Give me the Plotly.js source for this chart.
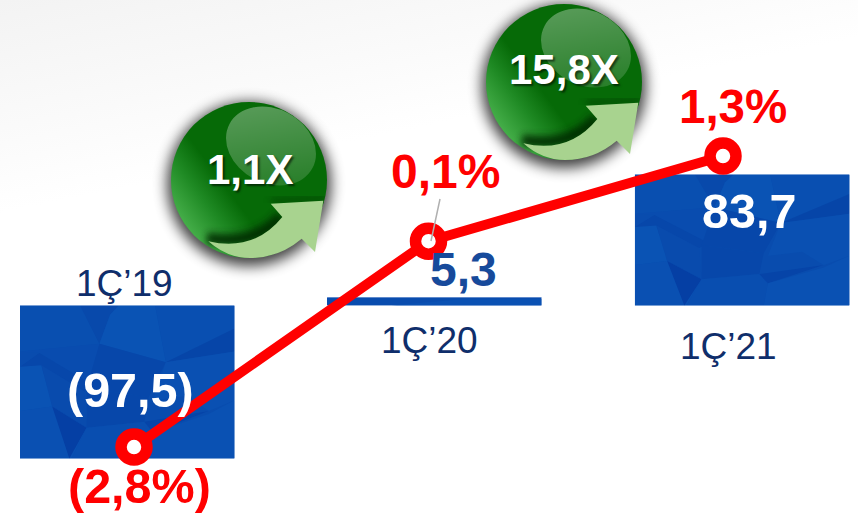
<!DOCTYPE html>
<html>
<head>
<meta charset="utf-8">
<script src="https://cdn.plot.ly/plotly-3.0.1.min.js"></script>
<style>html,body{margin:0;padding:0;background:#fff}#chart{width:858px;height:518px}</style>
</head>
<body>
<div id="chart"></div>
<script>
// ---- data ----
const periods = ["1Ç’19", "1Ç’20", "1Ç’21"];
const resultValues = [-97.5, 5.3, 83.7];
const resultLabels = ["(97,5)", "5,3", "83,7"];
const marginValues = [-2.8, 0.1, 1.3];
const marginLabels = ["(2,8%)", "0,1%", "1,3%"];
const growthLabels = ["1,1X", "15,8X"];

// ---- page geometry ----
const W = 858, H = 518;
const BAR_LEFT = [20, 327, 635], BAR_W = 214.5;
const BAR_ZERO_PX = 305.6, BAR_PX_PER_UNIT = 1.567;
const barCentre0 = 127.25, barStep = 307.4;
const lineX0 = 134, lineStep = 294.5;
const lineZeroPx = 248.3, linePxPerUnit = 70.98;

const FONT = '"Liberation Sans", Arial, sans-serif';
const svgUri = s => 'data:image/svg+xml;utf8,' + encodeURIComponent(s);

// ---- decoration: soft page background ----
const bgSvg = `<svg xmlns="http://www.w3.org/2000/svg" width="${W}" height="${H}" viewBox="0 0 ${W} ${H}">
<defs><linearGradient id="g" gradientUnits="userSpaceOnUse" x1="0" y1="0" x2="42" y2="205">
<stop offset="0" stop-color="#f3f3f3"/><stop offset="0.6" stop-color="#fafafa"/><stop offset="1" stop-color="#ffffff"/></linearGradient></defs>
<rect width="${W}" height="${H}" fill="url(#g)"/></svg>`;

// ---- decoration: faceted blue texture, viewBox is 100x100 and stretched to each bar ----
const facets = [
  ["0,0 100,0 100,100 0,100", "#0a4eb0"],
  ["0,0 28,0 37,25 0,30", "#0a52b3"],
  ["28,0 46,0 42,6 37,25", "#0849ab"],
  ["37,25 42,6 46,0 63,0 68,37", "#0b58b9"],
  ["63,0 100,0 100,15 68,37", "#0a52b4"],
  ["68,37 100,15 100,30 82,34", "#0643a6"],
  ["0,30 37,25 34,52 9,31", "#0a4eb1"],
  ["9,31 34,52 30,56 0,40", "#0745a9"],
  ["37,25 68,37 60,60 42,56 31,54", "#0746aa"],
  ["68,37 100,30 100,62 88,69 78,59 62,62", "#0b54b6"],
  ["0,40 10,39 15,66 0,69", "#0b58b9"],
  ["10,39 30,56 31,80 15,66", "#0a4cae"],
  ["31,54 60,60 58,76 31,80", "#0746a9"],
  ["15,66 31,80 24,100 0,100 0,69", "#0b54b6"],
  ["15,66 31,80 23,100", "#0439a0"],
  ["31,80 58,76 62,83 60,100 24,100", "#0a50b2"],
  ["58,76 88,69 62,83", "#0541a6"],
  ["62,83 88,71 100,62 100,100 60,100", "#0b55b7"]
];
const textureSvg = `<svg xmlns="http://www.w3.org/2000/svg" viewBox="0 0 100 100" preserveAspectRatio="none" width="214" height="150">` +
  facets.map(f => `<polygon points="${f[0]}" fill="${f[1]}"/>`).join('') + `</svg>`;
const stripSvg = `<svg xmlns="http://www.w3.org/2000/svg" viewBox="0 0 100 100" preserveAspectRatio="none" width="214" height="9">
<rect width="100" height="100" fill="#0a4eb0"/><polygon points="30,100 60,30 100,20 100,100" fill="#0b55b7"/></svg>`;

// ---- decoration: green growth badge ----
const BADGE = 220;
const badgeSvg = `<svg xmlns="http://www.w3.org/2000/svg" width="${BADGE}" height="${BADGE}" viewBox="-110 -110 220 220">
<defs>
<filter id="s" x="-40%" y="-40%" width="180%" height="180%"><feGaussianBlur stdDeviation="7"/></filter>
<filter id="d" x="-40%" y="-40%" width="180%" height="180%"><feGaussianBlur stdDeviation="3.5"/></filter>
<clipPath id="c"><circle r="78"/></clipPath>
<linearGradient id="b" gradientUnits="userSpaceOnUse" x1="-70" y1="40" x2="-24" y2="6">
<stop offset="0" stop-color="#47b04b"/><stop offset="0.55" stop-color="#1f8a24"/><stop offset="1" stop-color="#066a07"/></linearGradient>
<linearGradient id="h" gradientUnits="userSpaceOnUse" x1="-5" y1="-75" x2="55" y2="5">
<stop offset="0" stop-color="#ffffff" stop-opacity="0.34"/><stop offset="1" stop-color="#ffffff" stop-opacity="0.12"/></linearGradient>
</defs>
<circle r="82" cy="4" fill="#000" opacity="0.75" filter="url(#s)"/>
<circle r="78" fill="url(#b)"/>
<g clip-path="url(#c)">
<ellipse cx="22" cy="-34" rx="47" ry="37" transform="rotate(28 22 -34)" fill="url(#h)"/>
<path d="M-42,58 Q6,66 32,36" fill="none" stroke="#012a01" stroke-width="11" opacity="0.9" filter="url(#d)"/>
<path d="M22,21 L76,18" fill="none" stroke="#013a01" stroke-width="6" opacity="0.55" filter="url(#d)"/>
</g>
<path d="M21.7,23.7 L74.3,20.7 L66,72 L52.7,58.7 Q30,78 1,78 Q-22,78 -40.7,61.3 Q5,72 33.3,37 Z" fill="#a8d38f"/>
</svg>`;

// ---- images ----
const pxImage = (source, left, top, w, h) => ({
  source, xref: 'paper', yref: 'paper', xanchor: 'left', yanchor: 'top',
  x: left / W, y: 1 - top / H, sizex: w / W, sizey: h / H,
  sizing: 'stretch', layer: 'below'
});
const barTop = v => BAR_ZERO_PX - Math.max(v, 0) * BAR_PX_PER_UNIT;
const barPx = v => Math.abs(v) * BAR_PX_PER_UNIT;
const images = [
  pxImage(svgUri(bgSvg), 0, 0, W, H),
  pxImage(svgUri(textureSvg), BAR_LEFT[0], barTop(resultValues[0]), BAR_W, barPx(resultValues[0])),
  pxImage(svgUri(stripSvg), BAR_LEFT[1], barTop(resultValues[1]), BAR_W, barPx(resultValues[1])),
  pxImage(svgUri(textureSvg), BAR_LEFT[2], barTop(resultValues[2]), BAR_W, barPx(resultValues[2])),
  pxImage(svgUri(badgeSvg), 249 - BADGE / 2, 180 - BADGE / 2, BADGE, BADGE),
  pxImage(svgUri(badgeSvg), 564 - BADGE / 2, 82 - BADGE / 2, BADGE, BADGE)
];

// ---- traces ----
const bars = {
  type: 'bar', x: periods, y: resultValues, xaxis: 'x', yaxis: 'y',
  width: BAR_W / barStep,
  marker: { color: 'rgba(9,74,172,0.35)', line: { width: 0 } },
  hoverinfo: 'x+y', showlegend: false
};
const marginLine = {
  type: 'scatter', mode: 'lines+markers', x: periods, y: marginValues, xaxis: 'x2', yaxis: 'y2',
  line: { color: '#ff0000', width: 10 },
  marker: { size: 26, color: '#ffffff', line: { color: '#ff0000', width: 11.5 } },
  hoverinfo: 'x+y', showlegend: false, cliponaxis: false
};

// ---- labels, anchored to the marks ----
const barNote = (i, text, dx, dy, color, size, weight) => ({
  xref: 'x', yref: 'y', x: periods[i], y: 0, xshift: dx, yshift: dy, text, showarrow: false,
  xanchor: 'center', yanchor: 'middle',
  font: { family: FONT, size, color, weight }
});
const lineNote = (i, dx, dy, size) => ({
  xref: 'x2', yref: 'y2', x: periods[i], y: marginValues[i], xshift: dx, yshift: dy,
  text: marginLabels[i], showarrow: false, xanchor: 'center', yanchor: 'middle',
  font: { family: FONT, size, color: '#ff0000', weight: 700 }
});
const badgeNote = (text, cx, cy) => ({
  xref: 'paper', yref: 'paper', x: cx / W, y: 1 - cy / H, text, showarrow: false,
  xanchor: 'center', yanchor: 'middle',
  font: { family: FONT, size: 42, color: '#ffffff', weight: 700, shadow: '2px 2px 2px rgba(0,0,0,0.55)' }
});
const NAVY = '#0f2e6b';
const annotations = [
  barNote(0, resultLabels[0], 3, -84, '#ffffff', 48.5, 700),
  barNote(1, resultLabels[1], 28.5, 36, '#174a9b', 48, 700),
  barNote(2, resultLabels[2], 7, 95, '#ffffff', 48.5, 700),
  barNote(0, periods[0], -2.5, 22, NAVY, 37, 400),
  barNote(1, periods[1], -5, -35, NAVY, 37, 400),
  barNote(2, periods[2], -13.5, -41, NAVY, 37, 400),
  lineNote(0, 5, -39, 48.5),
  lineNote(1, 16.5, 70, 48),
  lineNote(2, 9.5, 50, 47.5),
  badgeNote(growthLabels[0], 249.5, 169),
  badgeNote(growthLabels[1], 563.5, 69)
];

// ---- layout ----
const hidden = { visible: false, fixedrange: true, showgrid: false, zeroline: false };
const layout = {
  width: W, height: H,
  margin: { l: 0, r: 0, t: 0, b: 0, pad: 0 },
  paper_bgcolor: '#ffffff', plot_bgcolor: 'rgba(0,0,0,0)',
  showlegend: false,
  xaxis: Object.assign({}, hidden, {
    type: 'category', categoryorder: 'array', categoryarray: periods,
    range: [-barCentre0 / barStep, (W - barCentre0) / barStep]
  }),
  yaxis: Object.assign({}, hidden, {
    range: [-(H - BAR_ZERO_PX) / BAR_PX_PER_UNIT, BAR_ZERO_PX / BAR_PX_PER_UNIT]
  }),
  xaxis2: Object.assign({}, hidden, {
    type: 'category', categoryorder: 'array', categoryarray: periods, overlaying: 'x',
    range: [-lineX0 / lineStep, (W - lineX0) / lineStep]
  }),
  yaxis2: Object.assign({}, hidden, {
    overlaying: 'y',
    range: [-(H - lineZeroPx) / linePxPerUnit, lineZeroPx / linePxPerUnit]
  }),
  images,
  annotations,
  shapes: [{
    type: 'line', xref: 'paper', yref: 'paper',
    x0: 440 / W, y0: 1 - 199 / H, x1: 431 / W, y1: 1 - 241 / H,
    line: { color: '#b0b0b0', width: 1.5 }, layer: 'above'
  }]
};

Plotly.newPlot('chart', [bars, marginLine], layout, { displayModeBar: false, staticPlot: true });
</script>
</body>
</html>
